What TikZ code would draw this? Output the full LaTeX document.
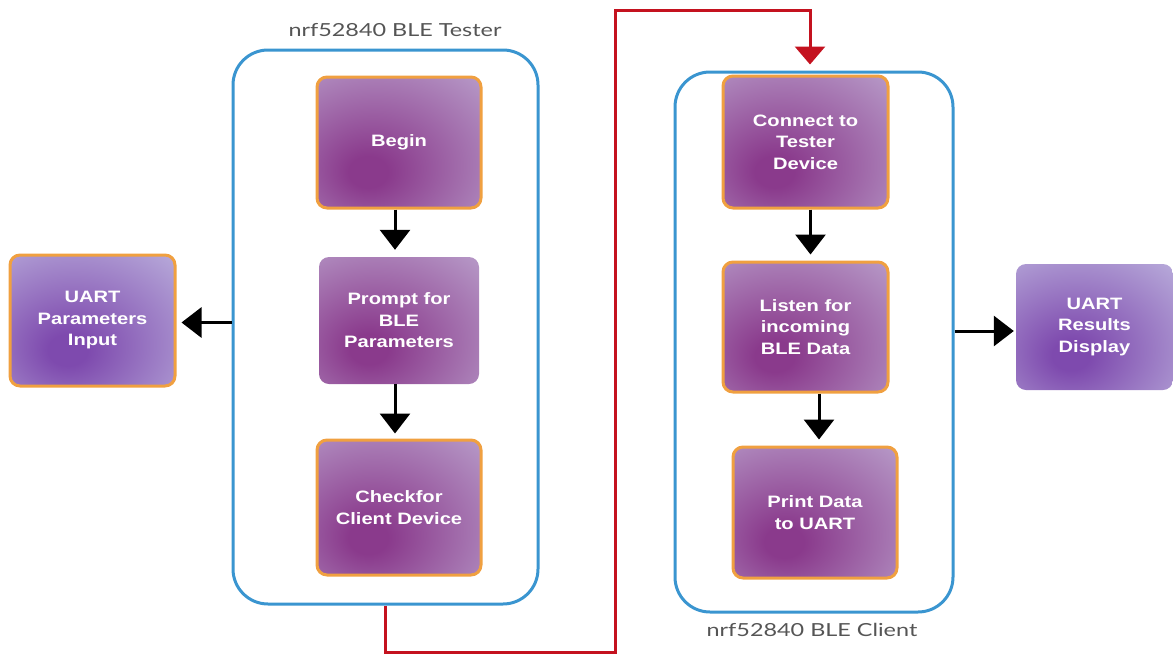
\documentclass[tikz,border=0pt]{standalone}
\usepackage{fontspec}
\usetikzlibrary{arrows.meta,calc}
\newfontfamily\boxfont[FakeStretch=1.22]{Liberation Sans}
\newfontfamily\titlefont[FakeStretch=1.3]{Lato}
\definecolor{pin}{HTML}{8A3A8C}
\definecolor{pout}{HTML}{B494C4}
\definecolor{uin}{HTML}{7E4AAE}
\definecolor{uout}{HTML}{B5A6D8}
\definecolor{cblue}{HTML}{3A95D0}
\definecolor{bord}{HTML}{F0A040}
\definecolor{rline}{HTML}{C4121F}
\definecolor{tgray}{HTML}{555555}
\pgfdeclareradialshading{purpball}{\pgfpoint{-10bp}{-12bp}}{color(0bp)=(pin); color(6bp)=(pin); color(42bp)=(pout); color(100bp)=(pout)}
\pgfdeclareradialshading{uartball}{\pgfpoint{-8bp}{-12bp}}{color(0bp)=(uin); color(6bp)=(uin); color(42bp)=(uout); color(100bp)=(uout)}
\tikzset{
  box/.style={rounded corners=10pt, shading=purpball, text=white, align=center,
    font=\boxfont\bfseries\fontsize{16.5}{21.5}\selectfont, inner sep=0pt},
  obox/.style={box, draw=bord, line width=3pt},
  ubox/.style={box, shading=uartball},
  container/.style={draw=cblue, line width=3pt, rounded corners=35pt},
  arr/.style={line width=3pt, -{Triangle[width=30pt,length=20pt]}},
  rarr/.style={line width=3pt, draw=rline, -{Triangle[width=30pt,length=18pt]}},
  ttl/.style={text=tgray, font=\titlefont\fontsize{18}{20}\selectfont}
}
\begin{document}
\begin{tikzpicture}[x=1pt,y=-1pt]
\useasboundingbox (0,0) rectangle (1173,654);
% containers
\node[container, minimum width=305pt, minimum height=554pt] (tester) at (385.5,327) {};
\node[container, minimum width=278pt, minimum height=540pt] (client) at (814,342) {};
\node[ttl] (ttester) at (395,30) {nrf52840 BLE Tester};
\node[ttl] (tclient) at (812,630) {nrf52840 BLE Client};
% tester boxes
\node[obox, minimum width=164pt, minimum height=131pt] (begin) at (399,142.5) {Begin};
\node[box, minimum width=160pt, minimum height=127pt] (prompt) at (399,320.5) {Prompt for\\BLE\\Parameters};
\node[obox, minimum width=164pt, minimum height=135pt] (check) at (399,507.5) {Checkfor\\Client Device};
\node[ubox, draw=bord, line width=3pt, minimum width=165pt, minimum height=131pt] (uin) at (92.5,320.5) {UART\\Parameters\\Input};
% client boxes
\node[obox, minimum width=165pt, minimum height=132pt] (connect) at (805.5,142) {Connect to\\Tester\\Device};
\node[obox, minimum width=165pt, minimum height=130pt] (listen) at (805.5,327) {Listen for\\incoming\\BLE Data};
\node[obox, minimum width=164pt, minimum height=131pt] (print) at (815,512.5) {Print Data\\to UART};
\node[ubox, minimum width=157pt, minimum height=126pt] (res) at (1094.5,327) {UART\\Results\\Display};
% arrows
\draw[arr, shorten >=7pt] ([xshift=-4pt]begin.south) -- ([xshift=-4pt]prompt.north);
\draw[arr, shorten >=5pt] ([xshift=-4pt]prompt.south) -- ([xshift=-4pt]check.north);
\draw[arr, shorten >=6pt] ([xshift=5pt]connect.south) -- ([xshift=5pt]connect.south |- listen.north);
\draw[arr, shorten >=6pt] ([xshift=4pt]print.north |- listen.south) -- ([xshift=4pt]print.north);
\draw[arr, shorten >=5pt] ([yshift=-2pt]tester.west |- uin.east) -- ([yshift=-2pt]uin.east);
\draw[arr, shorten >=2pt] ([yshift=-4pt]client.east |- res.west) -- ([yshift=-4pt]res.west);
% red connector
\coordinate (r1) at (385.5,652);
\coordinate (r2) at (615,652);
\coordinate (r3) at (615,10);
\coordinate (r4) at (810,10);
\draw[rarr, shorten >=6pt] (tester.south) -- (r1) -- (r2) -- (r3) -- (r4) -- (r4 |- client.north);
\end{tikzpicture}
\end{document}
